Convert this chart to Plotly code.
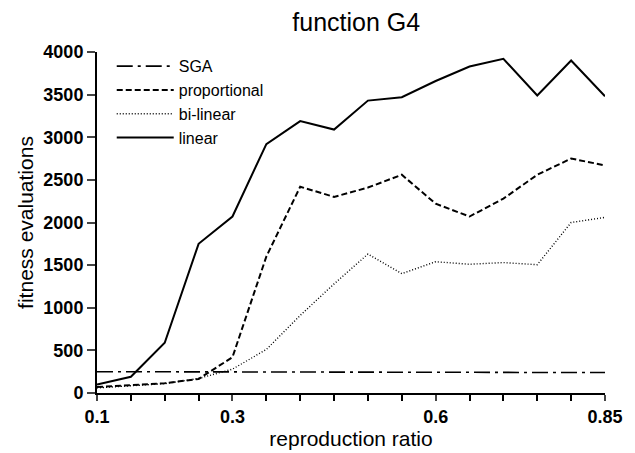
import plotly.graph_objects as go

ratio = [0.1, 0.15, 0.2, 0.25, 0.3, 0.35, 0.4, 0.45, 0.5, 0.55, 0.6, 0.65, 0.7, 0.75, 0.8, 0.85]
sga = [250, 250, 250, 250, 250, 250, 250, 248, 245, 245, 243, 242, 242, 240, 240, 240]
proportional = [70, 90, 115, 165, 420, 1600, 2420, 2300, 2410, 2560, 2220, 2070, 2280, 2560, 2750, 2670]
bilinear = [60, 85, 110, 170, 280, 510, 910, 1280, 1630, 1400, 1540, 1510, 1530, 1505, 2000, 2060]
linear = [100, 190, 590, 1750, 2070, 2920, 3190, 3090, 3430, 3470, 3660, 3830, 3920, 3490, 3900, 3480]

x_ticks = [0.1, 0.3, 0.6, 0.85]
x_ticktext = ["0.1", "0.3", "0.6", "0.85"]
y_ticks = [0, 500, 1000, 1500, 2000, 2500, 3000, 3500, 4000]

FONT = "Liberation Sans, Arial, Helvetica, sans-serif"

fig = go.Figure()
fig.add_trace(go.Scatter(x=ratio, y=sga, mode="lines", name="SGA",
                         line=dict(color="black", width=1.6, dash="16px,5px,3px,5px")))
fig.add_trace(go.Scatter(x=ratio, y=proportional, mode="lines", name="proportional",
                         line=dict(color="black", width=2, dash="6px,3px")))
fig.add_trace(go.Scatter(x=ratio, y=bilinear, mode="lines", name="bi-linear",
                         line=dict(color="black", width=1.4, dash="1px,2px")))
fig.add_trace(go.Scatter(x=ratio, y=linear, mode="lines", name="linear",
                         line=dict(color="black", width=2)))

fig.update_layout(
    width=635, height=453,
    margin=dict(l=97, r=20, t=52, b=47),
    paper_bgcolor="white", plot_bgcolor="white",
    font=dict(family=FONT, color="black", size=17),
    title=dict(text="function G4", x=0.561, xanchor="center", y=0.951, yanchor="middle",
               font=dict(size=25)),
    showlegend=True,
    legend=dict(x=0.029, y=1.008, xanchor="left", yanchor="top", bgcolor="rgba(0,0,0,0)",
                font=dict(size=16), tracegroupgap=0, itemwidth=57),
    xaxis=dict(range=[0.1, 0.85], tickvals=x_ticks, ticktext=x_ticktext,
               ticks="outside", ticklen=6, tickwidth=1.5, showgrid=False, zeroline=False,
               showline=True, linecolor="black", linewidth=2, ticklabeloverflow="allow",
               tickfont=dict(size=18, family=FONT, weight="bold"),
               minor=dict(tick0=0.1, dtick=0.05, ticks="outside", ticklen=6, tickwidth=1.5,
                          tickcolor="black", showgrid=False),
               title=dict(text="reproduction ratio", standoff=0, font=dict(size=21))),
    yaxis=dict(range=[0, 4000], tickvals=y_ticks,
               ticks="outside", ticklen=8, tickwidth=1.5, showgrid=False, zeroline=False,
               showline=True, linecolor="black", linewidth=2, ticklabeloverflow="allow",
               tickfont=dict(size=18, family=FONT, weight="bold"),
               title=dict(text="fitness evaluations", standoff=4, font=dict(size=21))),
)

fig.write_html("out.html")
